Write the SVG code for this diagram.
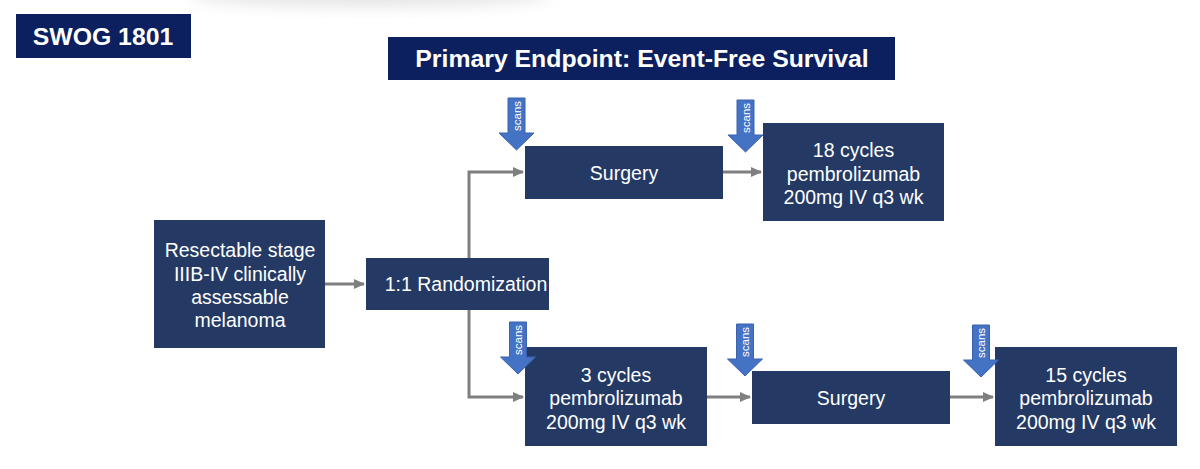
<svg xmlns="http://www.w3.org/2000/svg" width="1200" height="469" viewBox="0 0 1200 469">
  <style>
    .node { fill: #243a64; }
    .hdr { fill: #0c1f5e; }
    .t { font-family: "Liberation Sans", Arial, sans-serif; font-size: 19.5px; fill: #ffffff; text-anchor: middle; }
    .h { font-family: "Liberation Sans", Arial, sans-serif; font-size: 24.8px; font-weight: bold; fill: #ffffff; text-anchor: middle; }
    .conn { fill: none; stroke: #7f7f7f; stroke-width: 3; marker-end: url(#ah); }
    .scan { fill: #4472c4; stroke: #3a62ad; stroke-width: 1; }
    .st { font-family: "Liberation Sans", Arial, sans-serif; font-size: 11.5px; fill: #ffffff; text-anchor: middle; }
  </style>
  <defs>
    <marker id="ah" markerUnits="userSpaceOnUse" markerWidth="12" markerHeight="12" refX="10" refY="6" orient="auto">
      <path d="M0,1 L11,6 L0,11 Z" fill="#7f7f7f"/>
    </marker>
    <polygon id="scanArrow" class="scan" points="-8.5,0 8.5,0 8.5,35 17.5,35 0,52 -17.5,35 -8.5,35"/>
    <filter id="blur" x="-50%" y="-50%" width="200%" height="200%">
      <feGaussianBlur stdDeviation="8"/>
    </filter>
  </defs>
  <rect width="1200" height="469" fill="#ffffff"/>
  <ellipse cx="370" cy="-6" rx="180" ry="12" fill="#d0d0d0" opacity="0.6" filter="url(#blur)"/>

  <g id="swog">
    <rect class="hdr" x="16" y="14" width="175" height="44"/>
    <text class="h" x="103" y="45">SWOG 1801</text>
  </g>
  <g id="title">
    <rect class="hdr" x="388" y="37" width="507" height="43"/>
    <text class="h" x="642" y="67">Primary Endpoint:  Event-Free Survival</text>
  </g>

  <g id="connectors">
    <path class="conn" d="M325,284 H364"/>
    <path class="conn" d="M469,258 V172 H523"/>
    <path class="conn" d="M469,310 V397 H523"/>
    <path class="conn" d="M723,172 H761"/>
    <path class="conn" d="M707,397 H750"/>
    <path class="conn" d="M950,397 H993"/>
  </g>

  <g id="eligibility">
    <rect class="node" x="154" y="220" width="171" height="128"/>
    <text class="t" x="240" y="257">Resectable stage</text>
    <text class="t" x="240" y="280.5">IIIB-IV clinically</text>
    <text class="t" x="240" y="304">assessable</text>
    <text class="t" x="240" y="327">melanoma</text>
  </g>
  <g id="randomization">
    <rect class="node" x="366" y="258" width="183" height="52"/>
    <text class="t" x="466" y="291">1:1 Randomization</text>
  </g>
  <g id="surgery-adjuvant">
    <rect class="node" x="525" y="146" width="198" height="53"/>
    <text class="t" x="624" y="179.5">Surgery</text>
  </g>
  <g id="pembro-18">
    <rect class="node" x="763" y="123" width="181" height="98"/>
    <text class="t" x="853.5" y="157">18 cycles</text>
    <text class="t" x="853.5" y="180.5">pembrolizumab</text>
    <text class="t" x="853.5" y="204">200mg IV q3 wk</text>
  </g>
  <g id="pembro-3">
    <rect class="node" x="525" y="347" width="182" height="99"/>
    <text class="t" x="616" y="381.5">3 cycles</text>
    <text class="t" x="616" y="405">pembrolizumab</text>
    <text class="t" x="616" y="428.5">200mg IV q3 wk</text>
  </g>
  <g id="surgery-neoadjuvant">
    <rect class="node" x="752" y="371" width="198" height="53"/>
    <text class="t" x="851" y="404.5">Surgery</text>
  </g>
  <g id="pembro-15">
    <rect class="node" x="995" y="347" width="182" height="99"/>
    <text class="t" x="1086" y="381.5">15 cycles</text>
    <text class="t" x="1086" y="405">pembrolizumab</text>
    <text class="t" x="1086" y="428.5">200mg IV q3 wk</text>
  </g>

  <g id="scans-1">
    <use href="#scanArrow" x="516.5" y="98"/>
    <text class="st" transform="translate(516.5,116) rotate(-90)" y="4">scans</text>
  </g>
  <g id="scans-2">
    <use href="#scanArrow" x="745.5" y="100"/>
    <text class="st" transform="translate(745.5,118) rotate(-90)" y="4">scans</text>
  </g>
  <g id="scans-3">
    <use href="#scanArrow" x="518" y="322"/>
    <text class="st" transform="translate(518,340) rotate(-90)" y="4">scans</text>
  </g>
  <g id="scans-4">
    <use href="#scanArrow" x="745" y="324"/>
    <text class="st" transform="translate(745,342) rotate(-90)" y="4">scans</text>
  </g>
  <g id="scans-5">
    <use href="#scanArrow" x="981" y="325"/>
    <text class="st" transform="translate(981,343) rotate(-90)" y="4">scans</text>
  </g>
</svg>
